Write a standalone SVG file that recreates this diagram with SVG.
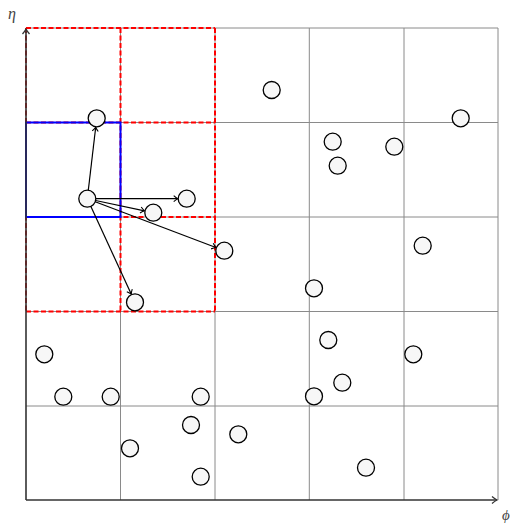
<svg xmlns="http://www.w3.org/2000/svg" width="514" height="523" viewBox="0 0 514 523">
<style>
.grid{stroke:#8a8a8a;stroke-width:1;fill:none}
.red{stroke:#ff0000;stroke-width:2;stroke-dasharray:5,2.5;fill:none}
.blue{stroke:#0000ff;stroke-width:2;fill:none}
.axis{stroke:#333;stroke-width:1.6;fill:none}
.pt{fill:#f7f7f7;stroke:#000;stroke-width:1.3}
.arr{stroke:#000;stroke-width:1.2;fill:none;marker-end:url(#ah)}
.lbl{font-family:"Liberation Serif",serif;font-style:italic;font-size:16px;fill:#444}
</style>
<defs>
<marker id="ah" markerUnits="userSpaceOnUse" markerWidth="10" markerHeight="10" viewBox="-6 -5 8 10" refX="0" refY="0" orient="auto">
<path d="M-4,-3 Q-1.5,-0.8 0,0 Q-1.5,0.8 -4,3" fill="none" stroke="#000" stroke-width="1.1"/>
</marker>
<marker id="ahx" markerUnits="userSpaceOnUse" markerWidth="12" markerHeight="12" viewBox="-7 -6 9 12" refX="0" refY="0" orient="auto">
<path d="M-5,-3.5 Q-2,-1 0,0 Q-2,1 -5,3.5" fill="none" stroke="#333" stroke-width="1.3"/>
</marker>
</defs>
<g id="grid">
<path class="grid" d="M120.5,28V500M215,28V500M309.3,28V500M404,28V500M498,28V500M26,28H498M26,122.5H498M26,217H498M26,311.5H498M26,406H498"/>
</g>
<g id="neighborhood">
<path class="red" d="M26,28H215M26,122.5H215M26,217H215M26,311.5H215M26,28V311.5M120.5,28V311.5M215,28V311.5"/>
<rect id="cell" class="blue" x="26" y="122.5" width="94.5" height="94.5"/>
</g>
<g id="axes">
<path class="axis" d="M26,500V29" marker-end="url(#ahx)"/>
<path class="axis" d="M26,500H497" marker-end="url(#ahx)"/>
<text class="lbl" x="8" y="19">η</text>
<text class="lbl" x="502" y="520" style="font-size:15px">ϕ</text>
</g>
<g id="connectors">
<path class="arr" d="M88.3,190.3L95.7,127.2"/>
<path class="arr" d="M95.8,198.7L177.7,198.7"/>
<path class="arr" d="M95.6,200.5L144.5,210.8"/>
<path class="arr" d="M95.2,201.7L215.9,247.5"/>
<path class="arr" d="M90.9,206.4L131.2,294.1"/>
</g>
<g id="points">
<circle id="p0" class="pt" cx="87.3" cy="198.7" r="8.5"/>
<circle id="p1" class="pt" cx="96.7" cy="118.3" r="8.5"/>
<circle id="p2" class="pt" cx="186.7" cy="198.7" r="8.5"/>
<circle id="p3" class="pt" cx="153.3" cy="212.7" r="8.5"/>
<circle id="p4" class="pt" cx="224.3" cy="250.7" r="8.5"/>
<circle id="p5" class="pt" cx="135" cy="302.3" r="8.5"/>
<circle id="p6" class="pt" cx="44.3" cy="354.3" r="8.5"/>
<circle id="p7" class="pt" cx="63.3" cy="396.7" r="8.5"/>
<circle id="p8" class="pt" cx="110.7" cy="396.7" r="8.5"/>
<circle id="p9" class="pt" cx="200.7" cy="396.7" r="8.5"/>
<circle id="p10" class="pt" cx="191" cy="425" r="8.5"/>
<circle id="p11" class="pt" cx="238.3" cy="434.3" r="8.5"/>
<circle id="p12" class="pt" cx="130" cy="448.3" r="8.5"/>
<circle id="p13" class="pt" cx="200.7" cy="476.7" r="8.5"/>
<circle id="p14" class="pt" cx="271.7" cy="90" r="8.5"/>
<circle id="p15" class="pt" cx="460.7" cy="118.3" r="8.5"/>
<circle id="p16" class="pt" cx="332.7" cy="141.7" r="8.5"/>
<circle id="p17" class="pt" cx="394.3" cy="146.7" r="8.5"/>
<circle id="p18" class="pt" cx="337.7" cy="165.7" r="8.5"/>
<circle id="p19" class="pt" cx="422.7" cy="245.7" r="8.5"/>
<circle id="p20" class="pt" cx="314" cy="288.3" r="8.5"/>
<circle id="p21" class="pt" cx="328.3" cy="340" r="8.5"/>
<circle id="p22" class="pt" cx="413.3" cy="354.3" r="8.5"/>
<circle id="p23" class="pt" cx="342.3" cy="382.7" r="8.5"/>
<circle id="p24" class="pt" cx="314" cy="396.3" r="8.5"/>
<circle id="p25" class="pt" cx="366" cy="467.7" r="8.5"/>
</g>
</svg>
